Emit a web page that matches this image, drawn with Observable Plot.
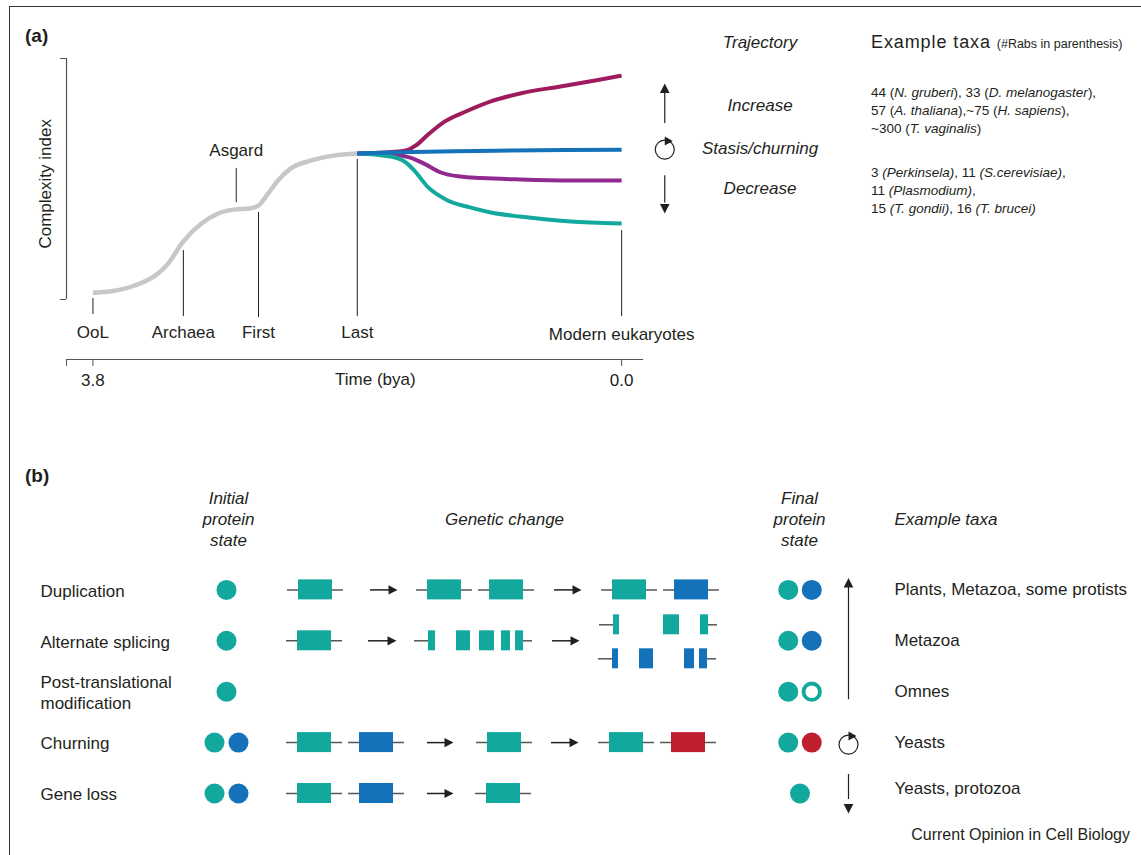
<!DOCTYPE html>
<html><head><meta charset="utf-8">
<script src="https://cdn.jsdelivr.net/npm/d3@7"></script>
<script src="https://cdn.jsdelivr.net/npm/@observablehq/plot@0.6"></script>
<style>
body{margin:0;background:#fff;font-family:"Liberation Sans",Arial,sans-serif;color:#231f20}
#fig{position:relative;width:1141px;height:855px;overflow:hidden;background:#fff}
.frame{position:absolute;left:9px;top:6px;width:1300px;height:1000px;border-top:1.5px solid #333;border-left:1.5px solid #333}
.abs{position:absolute;white-space:nowrap;line-height:1}
.c{transform:translate(-50%,-50%)}
.l{transform:translate(0,-50%)}
.r{transform:translate(-100%,-50%)}
.b{font-weight:bold;font-size:19px}
.it{font-style:italic}
.big{font-size:17px}
.sm{font-size:13.5px}
svg{overflow:visible}
</style></head>
<body>
<div id="fig">
  <div class="frame"></div>
  <div id="pa" style="position:absolute;left:0;top:0"></div>
  <div id="pb" style="position:absolute;left:0;top:430px"></div>
  <div class="abs b l" style="left:25px;top:35px">(a)</div>
  <div class="abs b l" style="left:25px;top:475px">(b)</div>
  <div id="traj"></div>
  <div class="abs l" style="left:871px;top:42px;font-size:18px;letter-spacing:0.9px">Example taxa <span style="font-size:12.5px;letter-spacing:0">(#Rabs in parenthesis)</span></div>
  <div class="abs l sm" style="left:871px;top:93px">44 (<i>N. gruberi</i>), 33 (<i>D. melanogaster</i>),</div>
  <div class="abs l sm" style="left:871px;top:111px">57 (<i>A. thaliana</i>),~75 (<i>H. sapiens</i>),</div>
  <div class="abs l sm" style="left:871px;top:129px">~300 (<i>T. vaginalis</i>)</div>
  <div class="abs l sm" style="left:871px;top:173px">3 <i>(Perkinsela)</i>, 11 <i>(S.cerevisiae)</i>,</div>
  <div class="abs l sm" style="left:871px;top:191px">11 <i>(Plasmodium)</i>,</div>
  <div class="abs l sm" style="left:871px;top:209px">15 <i>(T. gondii)</i>, 16 <i>(T. brucei)</i></div>
  <div class="abs r" style="left:1130px;top:835px;font-size:16px">Current Opinion in Cell Biology</div>
</div>
<script>
// ================= DATA =================
// Panel (a): complexity trajectories over time (billion years ago)
const events = ["OoL", "Archaea", "Asgard", "First", "Last", "Modern eukaryotes"];
const eventTimes = [3.8, 3.15, 2.77, 2.61, 1.9, 0];
const timeTicks = [3.8, 0];
const trajectories = ["Trajectory", "Increase", "Stasis/churning", "Decrease"];

const ancestralTime  = [3.8, 3.67, 3.5, 3.33, 3.26, 3.15, 3.02, 2.9, 2.79, 2.67, 2.61, 2.54, 2.47, 2.38, 2.23, 2.07, 1.9];
const ancestralIndex = [2.8, 3.4, 5.8, 10.9, 14.9, 24.1, 31.5, 35.7, 37.3, 37.8, 39.0, 44.0, 49.4, 54.3, 57.7, 59.7, 60.6];

const increaseTime  = [1.9, 1.7, 1.55, 1.48, 1.39, 1.27, 1.12, 0.94, 0.73, 0.44, 0.15, 0];
const increaseIndex = [60.6, 61.0, 61.8, 63.9, 68.5, 73.9, 78.0, 82.2, 85.5, 88.4, 91.3, 92.9];

const stasisTime  = [1.9, 1.6, 1.2, 0.8, 0.4, 0];
const stasisIndex = [60.6, 61.1, 61.5, 61.8, 62.0, 62.1];

const mildDecreaseTime  = [1.9, 1.62, 1.52, 1.42, 1.3, 1.16, 1.01, 0.73, 0.37, 0];
const mildDecreaseIndex = [60.6, 60.1, 58.9, 56.4, 52.7, 51.0, 50.4, 49.8, 49.4, 49.4];

const strongDecreaseTime  = [1.9, 1.66, 1.55, 1.49, 1.39, 1.25, 1.09, 0.94, 0.73, 0.46, 0.22, 0];
const strongDecreaseIndex = [60.6, 59.3, 56.8, 53.5, 46.5, 41.1, 38.2, 36.1, 34.4, 32.8, 31.9, 31.5];

// Panel (b): mechanisms
const rows = ["Duplication", "Alternate splicing", "Post-translational\nmodification", "Churning", "Gene loss"];
const initialState = [["teal"], ["teal"], ["teal"], ["teal", "blue"], ["teal", "blue"]];
const finalState   = [["teal", "blue"], ["teal", "blue"], ["teal", "ring"], ["teal", "red"], ["teal"]];
const exampleTaxa  = ["Plants, Metazoa, some protists", "Metazoa", "Omnes", "Yeasts", "Yeasts, protozoa"];
const geneStages = [
  [["teal"], ["teal", "teal"], ["teal", "blue"]],
  [["teal"]],
  [],
  [["teal", "blue"], ["teal"], ["teal", "red"]],
  [["teal", "blue"], ["teal"]]
];
const columnHeaders = ["Initial\nprotein\nstate", "Genetic change", "Final\nprotein\nstate"];
const taxaHeader = "Example taxa";

// ================= LAYOUT / STYLE =================
const INK = "#231f20", AXIS = "#555", GRAY = "#c6c7c9";
const COL = {teal: "#13a89e", blue: "#1472ba", red: "#be1e2d", ring: "#13a89e"};
const FONT = "'Liberation Sans', Arial, sans-serif";
const timeExtent = [3.99, -0.15];
const eventLineTop    = [0.4, 20.3, 54.4, 36.1, 58.1, 28.6];
const eventLineBottom = [-6.2, -7.1, 40.2, -7.5, -7.1, -7.1];
const eventLabelY     = [-13.9, -13.9, 61.6, -13.9, -13.9, -14.5];
const arrowTime = -0.31;

const headerX = [228, 504, 799];
const geneCentres = [[[315], [444, 506], [629, 691]], [[314]], [], [[314, 376], [504], [626, 688]], [[314, 376], [503]]];
const arrowSpans  = [[[370, 397], [554, 581]], [[368, 396], [552, 579]], [], [[427, 453], [551, 578]], [[427, 453]]];
const splicedGene = {stubs: [[414, 428], [523, 532]], exons: [[428, 435], [456, 470], [479, 494], [501, 510], [515, 523]], dy: 0, color: "teal"};
const isoforms = [
  {stubs: [[599, 613], [708, 717]], exons: [[613, 619], [663, 679], [700, 708]], dy: -16, color: "teal"},
  {stubs: [[598, 612], [707, 716]], exons: [[612, 618], [639, 653], [684, 694], [699, 707]], dy: 18, color: "blue"}
];

// custom filled triangles, tip at the origin
function tri(dir, len = 9.5, half = 4.8) {
  return {draw(ctx) {
    if (dir === "right") { ctx.moveTo(0, 0); ctx.lineTo(-len, -half); ctx.lineTo(-len, half); }
    if (dir === "up")    { ctx.moveTo(0, 0); ctx.lineTo(-half, len); ctx.lineTo(half, len); }
    if (dir === "down")  { ctx.moveTo(0, 0); ctx.lineTo(-half, -len); ctx.lineTo(half, -len); }
    ctx.closePath();
  }};
}

// ================= PANEL (a) =================
const series = (ts, vs, name) => ts.map((t, i) => ({time: t, index: vs[i], series: name}));
const ev = events.map((name, i) => ({name, time: eventTimes[i], top: eventLineTop[i], bottom: eventLineBottom[i], ly: eventLabelY[i]}));
const one = [0];
const lineOpts = (stroke, w = 4) => ({x: "time", y: "index", stroke, strokeWidth: w, curve: "monotone-x", strokeLinecap: "butt"});

const plotA = Plot.plot({
  width: 1141, height: 430,
  marginTop: 58, marginRight: 499, marginBottom: 71, marginLeft: 66,
  style: {fontFamily: FONT, fontSize: "17px", color: INK, background: "transparent", overflow: "visible"},
  x: {domain: timeExtent},
  y: {domain: [0, 100], range: [299, 58]},
  marks: [
    Plot.frame({anchor: "bottom", stroke: AXIS, strokeWidth: 1.2}),
    Plot.axisX({ticks: [timeExtent[0], ...timeTicks], tickFormat: d => d > 3.9 ? "" : d3.format(".1f")(d),
                tickSize: 7, tickPadding: 7, fontSize: 17, stroke: AXIS, label: null}),
    Plot.axisY({ticks: [0, 100], tickFormat: () => "", tickSize: 6, label: null, stroke: AXIS}),
    Plot.ruleX(one, {x: timeExtent[0], y1: 0, y2: 100, stroke: AXIS, strokeWidth: 1.2}),
    Plot.text(["Complexity index"], {x: timeExtent[0], y: 48, dx: -21, rotate: -90, fontSize: 17, fill: INK}),
    Plot.ruleX(ev, {x: "time", y1: "bottom", y2: "top", stroke: INK, strokeWidth: 1}),
    Plot.text(ev, {x: "time", y: "ly", text: "name", fontSize: 17, fill: INK}),
    Plot.text(["Time (bya)"], {x: 1.77, frameAnchor: "bottom", lineAnchor: "middle", dy: 20, fontSize: 17, fill: INK}),
    Plot.line(series(ancestralTime, ancestralIndex, "ancestral"), lineOpts(GRAY, 4.5)),
    Plot.line(series(increaseTime, increaseIndex, "increase"), lineOpts("#9e1c5e")),
    Plot.line(series(mildDecreaseTime, mildDecreaseIndex, "mild"), lineOpts("#912a8e")),
    Plot.line(series(strongDecreaseTime, strongDecreaseIndex, "strong"), lineOpts(COL.teal)),
    Plot.line(series(stasisTime, stasisIndex, "stasis"), lineOpts(COL.blue)),
    // trajectory arrows
    Plot.ruleX(one, {x: arrowTime, y1: 73.0, y2: 85.5, stroke: INK, strokeWidth: 1.2}),
    Plot.dot(one, {x: arrowTime, y: 89.6, symbol: tri("up"), fill: INK, stroke: "none"}),
    Plot.dot(one, {x: arrowTime, y: 62.2, r: 9.5, fill: "none", stroke: INK, strokeWidth: 1.2}),
    Plot.dot(one, {x: arrowTime, y: 62.2, dx: 8, dy: -8.5, symbol: tri("right", 8, 4.5), fill: INK, stroke: "none"}),
    Plot.ruleX(one, {x: arrowTime, y1: 51.4, y2: 40.0, stroke: INK, strokeWidth: 1.2}),
    Plot.dot(one, {x: arrowTime, y: 35.7, symbol: tri("down"), fill: INK, stroke: "none"})
  ]
});
document.getElementById("pa").appendChild(plotA);

// trajectory labels (HTML, italic)
const trajY = [42, 105, 148, 188];
const trajDiv = document.getElementById("traj");
trajectories.forEach((t, i) => {
  const d = document.createElement("div");
  d.className = "abs c it big";
  d.style.left = "760px"; d.style.top = trajY[i] + "px";
  d.textContent = t;
  trajDiv.appendChild(d);
});

// ================= PANEL (b) =================
const dotsFor = (states, centre, gap) => states.flatMap((s, r) =>
  s.map((c, j) => ({row: rows[r], color: c, x: s.length === 1 ? centre : centre + (j - (s.length - 1) / 2) * gap})));
const initialDots = dotsFor(initialState, 226, 24);
const finalDots = dotsFor(finalState, 799.5, 23.5);
const genes = geneStages.flatMap((stages, r) => stages.flatMap((st, k) =>
  st.map((c, j) => ({row: rows[r], color: c, x: geneCentres[r][k][j]}))));
const arrows = arrowSpans.flatMap((sp, r) => sp.map(([a, b]) => ({row: rows[r], x1: a, x2: b})));
const splice = [splicedGene, ...isoforms];
const exonBars = splice.flatMap(g => g.exons.map(([a, b]) => ({row: rows[1], x1: a, x2: b, color: g.color, dy: g.dy})));
const stubs = splice.flatMap(g => g.stubs.map(([a, b]) => ({row: rows[1], x1: a, x2: b, dy: g.dy})));
const taxa = exampleTaxa.map((t, i) => ({row: rows[i], text: t}));

const step = 50.9, bw = 20;
const plotB = Plot.plot({
  width: 1141, height: 425, margin: 0,
  style: {fontFamily: FONT, fontSize: "17px", color: INK, background: "transparent", overflow: "visible"},
  x: {domain: [0, 1141], range: [0, 1141], axis: null},
  y: {type: "band", domain: rows, range: [159.4 - bw / 2, 159.4 - bw / 2 + step * (rows.length - (1 - bw / step))],
      paddingInner: 1 - bw / step, paddingOuter: 0, round: false, axis: null},
  marks: [
    Plot.text(columnHeaders, {x: headerX, frameAnchor: "top", lineAnchor: "middle", dy: 88, textAnchor: "middle",
                        fontStyle: "italic", fontSize: 17, lineHeight: 1.24, fill: INK}),
    Plot.text([taxaHeader], {x: 894, frameAnchor: "top", lineAnchor: "middle", dy: 89, textAnchor: "start",
                        fontStyle: "italic", fontSize: 17, fill: INK}),
    Plot.text(rows, {x: 40, y: d => d, textAnchor: "start", fontSize: 17, lineHeight: 1.24, fill: INK}),
    // gene backbones and boxes
    Plot.ruleY(genes, {y: "row", x1: d => d.x - 28, x2: d => d.x + 28, stroke: "#555", strokeWidth: 1.5}),
    Plot.barX(genes, {y: "row", x1: d => d.x - 17, x2: d => d.x + 17, fill: d => COL[d.color]}),
    ...[0, -16, 18].map(off => Plot.ruleY(stubs.filter(s => s.dy === off), {y: "row", x1: "x1", x2: "x2", dy: off, stroke: "#555", strokeWidth: 1.5})),
    ...[0, -16, 18].map(off => Plot.barX(exonBars.filter(s => s.dy === off), {y: "row", x1: "x1", x2: "x2", dy: off, fill: d => COL[d.color]})),
    // arrows between stages
    Plot.ruleY(arrows, {y: "row", x1: "x1", x2: d => d.x2 - 6, stroke: INK, strokeWidth: 1.5}),
    Plot.dot(arrows, {y: "row", x: "x2", symbol: tri("right", 9, 4.6), fill: INK, stroke: "none"}),
    // protein states
    Plot.dot(initialDots, {x: "x", y: "row", r: 10, fill: d => COL[d.color], stroke: "none"}),
    Plot.dot(finalDots.filter(d => d.color !== "ring"), {x: "x", y: "row", r: 10, fill: d => COL[d.color], stroke: "none"}),
    Plot.dot(finalDots.filter(d => d.color === "ring"), {x: "x", y: "row", r: 8.2, fill: "white", stroke: COL.teal, strokeWidth: 3.8}),
    // trend arrows
    Plot.ruleX([{a: rows[0], b: rows[2]}], {x: 848, y1: "a", y2: "b", insetTop: 4, insetBottom: 2, stroke: INK, strokeWidth: 1.2}),
    Plot.dot([rows[0]], {x: 848, y: d => d, dy: -12, symbol: tri("up"), fill: INK, stroke: "none"}),
    Plot.dot([rows[3]], {x: 848, y: d => d, dy: 2, r: 9.5, fill: "none", stroke: INK, strokeWidth: 1.2}),
    Plot.dot([rows[3]], {x: 848, y: d => d, dx: 8, dy: -6.5, symbol: tri("right", 8, 4.5), fill: INK, stroke: "none"}),
    Plot.ruleX([{a: rows[4], b: rows[4]}], {x: 848, y1: "a", y2: "b", insetTop: -9, insetBottom: 4, stroke: INK, strokeWidth: 1.2}),
    Plot.dot([rows[4]], {x: 848, y: d => d, dy: 20, symbol: tri("down"), fill: INK, stroke: "none"}),
    // example taxa
    Plot.text(taxa.slice(0, 4), {x: 894, y: "row", text: "text", textAnchor: "start", fontSize: 17, fill: INK}),
    Plot.text(taxa.slice(4), {x: 894, y: "row", dy: -5, text: "text", textAnchor: "start", fontSize: 17, fill: INK})
  ]
});
document.getElementById("pb").appendChild(plotB);
</script>
</body></html>
